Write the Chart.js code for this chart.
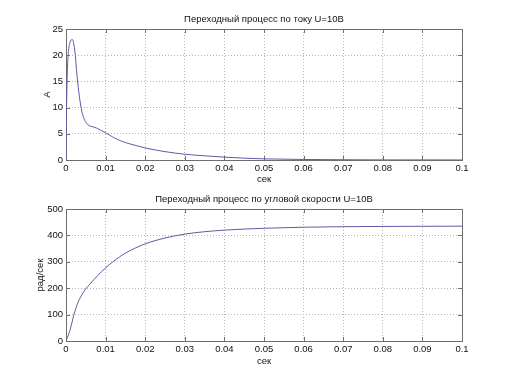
<!DOCTYPE html>
<html>
<head>
<meta charset="utf-8">
<script src="https://cdn.jsdelivr.net/npm/chart.js@4/dist/chart.umd.min.js"></script>
<style>
  html, body { margin: 0; padding: 0; background: #fff; }
  #wrap { position: relative; width: 511px; height: 383px; }
  canvas { position: absolute; left: 0; }
  #currentChart { top: 0; }
  #speedChart { top: 190px; }
</style>
</head>
<body>
<div id="wrap">
  <canvas id="currentChart" width="511" height="190"></canvas>
  <canvas id="speedChart" width="511" height="193"></canvas>
</div>
<script>
// current transient, A
const timeCurrent = [0, 0.0001, 0.0003, 0.0006, 0.001, 0.0016, 0.0022, 0.0028, 0.0034, 0.004, 0.0046,
  0.0052, 0.006, 0.007, 0.008, 0.009, 0.01, 0.012, 0.014, 0.016, 0.018, 0.02, 0.025, 0.03, 0.035,
  0.04, 0.045, 0.05, 0.06, 0.07, 0.08, 0.1];
const currentValues = [0, 8, 16, 20.5, 22.4, 23, 21, 16, 12, 9.3, 7.8,
  7, 6.5, 6.3, 6, 5.6, 5.2, 4.3, 3.6, 3.1, 2.7, 2.3, 1.6, 1.1, 0.8,
  0.55, 0.35, 0.22, 0.1, 0.05, 0.02, 0.01];

// angular speed transient, rad/s
const timeSpeed = [0, 0.001, 0.002, 0.003, 0.004, 0.005, 0.006, 0.008, 0.01, 0.012, 0.015, 0.02,
  0.025, 0.03, 0.035, 0.04, 0.045, 0.05, 0.06, 0.07, 0.08, 0.09, 0.1];
const speedValues = [0, 40, 100, 145, 175, 198, 215, 248, 277, 302, 333, 368,
  390, 405, 414, 420, 424, 427, 431, 433, 434, 434.5, 435];

const currentTitle = "Переходный процесс по току U=10В";
const speedTitle = "Переходный процесс по угловой скорости U=10В";

Chart.defaults.font.family = "'Liberation Sans', Arial, sans-serif";
Chart.defaults.font.size = 9.5;
Chart.defaults.color = "#111";

const lineColor = "#5b5ba6";

// matlab style box with inward ticks
const boxTicks = {
  id: "boxTicks",
  beforeDatasetsDraw(chart) {
    const { ctx, chartArea: a, scales } = chart;
    const x = scales.x, y = scales.y;
    ctx.save();
    ctx.strokeStyle = "#6e6e6e";
    ctx.lineWidth = 1;
    ctx.beginPath();
    x.ticks.forEach((t) => {
      const px = Math.round(x.getPixelForValue(t.value)) + 0.5;
      ctx.moveTo(px, a.bottom); ctx.lineTo(px, a.bottom - 4);
      ctx.moveTo(px, a.top); ctx.lineTo(px, a.top + 4);
    });
    y.ticks.forEach((t) => {
      const py = Math.round(y.getPixelForValue(t.value)) + 0.5;
      ctx.moveTo(a.left, py); ctx.lineTo(a.left + 4, py);
      ctx.moveTo(a.right, py); ctx.lineTo(a.right - 4, py);
    });
    ctx.stroke();
    ctx.strokeRect(Math.round(a.left) + 0.5, Math.round(a.top) + 0.5,
      Math.round(a.right - a.left), Math.round(a.bottom - a.top));
    ctx.restore();
  },
};

const makeChart = (id, xs, ys, title, yLabel, yMax, yStep, opts) => {
  const points = xs.map((t, i) => ({ x: t, y: ys[i] }));
  return new Chart(document.getElementById(id), {
    type: "line",
    data: {
      datasets: [{
        data: points,
        borderColor: lineColor,
        borderWidth: 1,
        pointRadius: 0,
        fill: false,
        cubicInterpolationMode: "monotone",
      }],
    },
    options: {
      responsive: false,
      animation: false,
      layout: { padding: { left: 0, right: 49, top: 0, bottom: 0 } },
      plugins: {
        legend: { display: false },
        tooltip: { enabled: false },
        title: {
          display: true,
          fullSize: false,
          text: title,
          color: "#111",
          font: { size: 9.5, weight: "normal" },
          padding: { top: opts.titleTop, bottom: opts.titleBottom },
        },
      },
      scales: {
        x: {
          type: "linear",
          min: 0,
          max: 0.1,
          afterFit: (s) => { s.height = opts.xHeight; },
          ticks: {
            stepSize: 0.01,
            maxRotation: 0,
            autoSkip: false,
            padding: 3,
            callback: (v) => String(Math.round(v * 100) / 100),
          },
          grid: { color: "#b4b4b4", drawTicks: false },
          border: { display: false, dash: [1, 2] },
          title: { display: true, text: "сек", padding: { top: 0, bottom: opts.xTitleBottom } },
        },
        y: {
          min: 0,
          max: yMax,
          afterFit: (s) => { s.width = 66; },
          ticks: { stepSize: yStep, padding: 3 },
          grid: { color: "#b4b4b4", drawTicks: false },
          border: { display: false, dash: [1, 2] },
          title: { display: true, text: yLabel, padding: { top: opts.yTitleLeft, bottom: 0 } },
        },
      },
    },
    plugins: [boxTicks],
  });
};

makeChart("currentChart", timeCurrent, currentValues, currentTitle, "A", 25, 5,
  { titleTop: 13.6, titleBottom: 4, xHeight: 30, xTitleBottom: 5.3, yTitleLeft: 41.3 });
makeChart("speedChart", timeSpeed, speedValues, speedTitle, "рад/сек", 500, 100,
  { titleTop: 3.3, titleBottom: 4.3, xHeight: 42, xTitleBottom: 16.3, yTitleLeft: 34.3 });
</script>
</body>
</html>
